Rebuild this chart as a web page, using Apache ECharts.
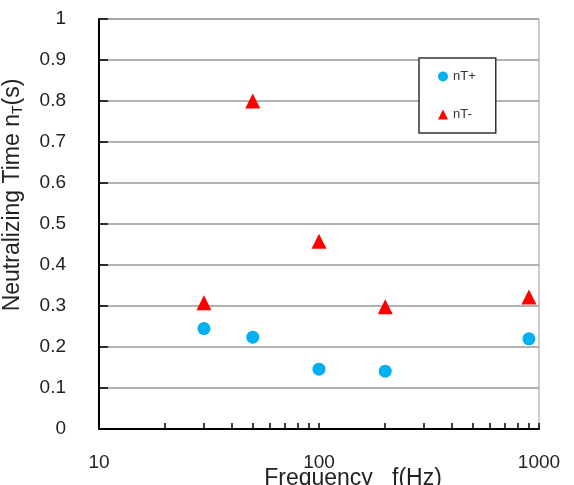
<!DOCTYPE html>
<html style="height: 100%">
<head>
    <meta charset="utf-8">
</head>
<body style="height: 100%; margin: 0; background: #fff">
<div id="container" style="width: 574px; height: 485px"></div>
<script type="text/javascript" src="https://cdn.jsdelivr.net/npm/echarts@6/dist/echarts.min.js"></script>
<script type="text/javascript">
// frequency (Hz) of each measurement
var freq = [30, 50, 100, 200, 900];
// neutralizing time (s)
var nTplus = [0.245, 0.224, 0.146, 0.141, 0.220];
var nTminus = [0.308, 0.800, 0.458, 0.298, 0.322];
// x axis ticks and labels
var xTickValues = [10, 20, 30, 40, 50, 60, 70, 80, 90, 100, 200, 300, 400, 500, 600, 700, 800, 900, 1000];
var xLabelValues = [10, 100, 1000];

function pairs(xs, ys) {
    var out = [];
    for (var i = 0; i < xs.length; i++) {
        out.push([xs[i], ys[i]]);
    }
    return out;
}

var dom = document.getElementById("container");
var myChart = echarts.init(dom, null, {renderer: 'canvas'});

var font = 'Liberation Sans, Arial, sans-serif';

option = {
    backgroundColor: '#fff',
    animation: false,
    grid: {
        left: 99,
        right: 35,
        top: 19,
        bottom: 56,
        outerBoundsMode: 'none',
        containLabel: false,
        show: true,
        borderColor: '#999',
        borderWidth: 1
    },
    legend: {
        orient: 'vertical',
        left: 419,
        top: 58,
        padding: [12, 20, 12, 19],
        itemGap: 25,
        itemWidth: 10,
        itemHeight: 10,
        backgroundColor: '#fff',
        borderColor: '#333',
        borderWidth: 1.5,
        borderRadius: 0,
        textStyle: {
            fontFamily: font,
            fontSize: 13,
            color: '#333'
        },
        data: ['nT+', 'nT-']
    },
    xAxis: {
        type: 'log',
        logBase: 10,
        min: 10,
        max: 1000,
        name: 'Frequency   f(Hz)',
        nameLocation: 'middle',
        nameMoveOverlap: false,
        nameGap: 38,
        nameTextStyle: {
            fontFamily: font,
            fontSize: 23,
            color: '#222',
            padding: [0, 0, 0, 68]
        },
        axisLine: {lineStyle: {color: '#000', width: 2}},
        axisTick: {
            inside: true,
            length: 6,
            customValues: xTickValues,
            lineStyle: {color: '#000', width: 1.5}
        },
        axisLabel: {
            customValues: xLabelValues,
            formatter: function (v) { return String(Math.round(v)); },
            margin: 24,
            fontFamily: font,
            fontSize: 19,
            color: '#222'
        },
        splitLine: {show: false}
    },
    yAxis: {
        type: 'value',
        min: 0,
        max: 1,
        interval: 0.1,
        name: '{a|Neutralizing Time n}{b|T}{a|(s)}',
        nameLocation: 'middle',
        nameMoveOverlap: false,
        nameGap: 74,
        nameTextStyle: {
            padding: [0, 0, 0, 58],
            rich: {
                a: {fontFamily: font, fontSize: 23, color: '#222'},
                b: {fontFamily: font, fontSize: 14, color: '#222', padding: [11, 0, 0, 0]}
            }
        },
        axisLine: {lineStyle: {color: '#000', width: 2}},
        axisTick: {
            inside: true,
            length: 9,
            lineStyle: {color: '#000', width: 1.5}
        },
        axisLabel: {
            margin: 33,
            fontFamily: font,
            fontSize: 19,
            color: '#222'
        },
        splitLine: {lineStyle: {color: '#999', width: 1.5}}
    },
    series: [
        {
            name: 'nT+',
            type: 'scatter',
            symbol: 'circle',
            symbolSize: 13,
            itemStyle: {color: '#00B0F0', opacity: 1},
            data: pairs(freq, nTplus)
        },
        {
            name: 'nT-',
            type: 'scatter',
            symbol: 'triangle',
            symbolSize: 15,
            itemStyle: {color: '#FF0000', opacity: 1},
            data: pairs(freq, nTminus)
        }
    ]
};

myChart.setOption(option);
</script>
</body>
</html>
